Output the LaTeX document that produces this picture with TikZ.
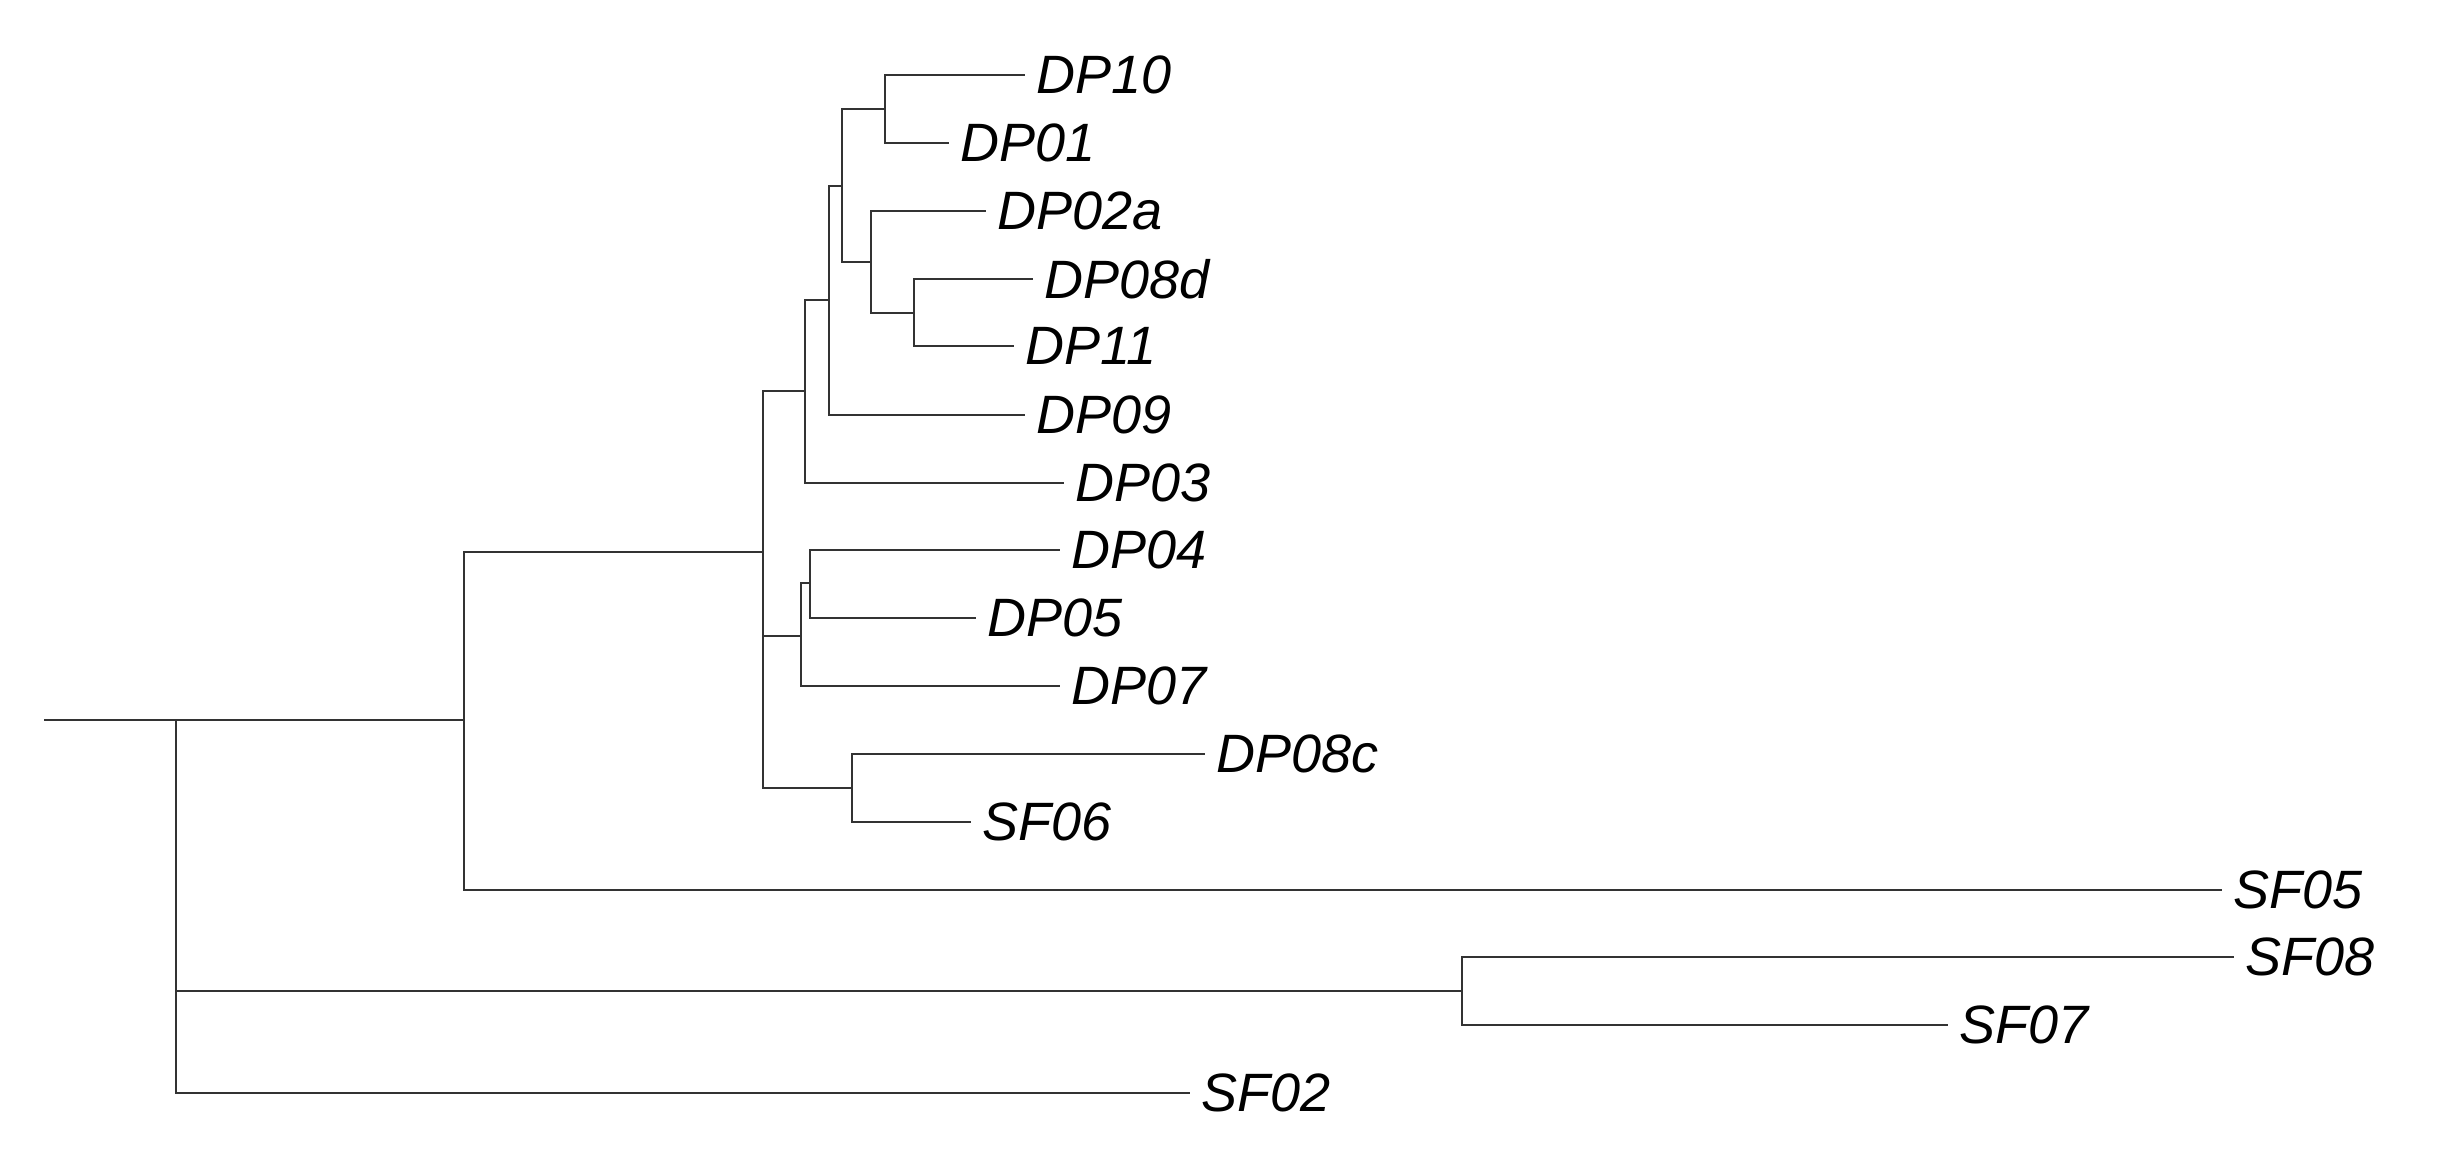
\documentclass[tikz,border=0pt]{standalone}
\usepackage{fontspec}
\setmainfont{Liberation Sans}
\begin{document}
\begin{tikzpicture}[x=1pt,y=-1pt,
  br/.style={line width=2.6pt,draw=black!80,line cap=rect},
  lab/.style={anchor=west,inner sep=0pt,font=\fontsize{54}{60}\selectfont\itshape}]
\useasboundingbox (0,0) rectangle (2453,1167);
% internal nodes
\coordinate (root) at (45,720);
\coordinate (J) at (464,720);
\coordinate (L) at (176,1041);
\coordinate (K) at (1462,991);
\coordinate (I) at (763,552);
\coordinate (F) at (805,391);
\coordinate (E) at (829,300);
\coordinate (D) at (842,186);
\coordinate (A) at (885,109);
\coordinate (C) at (871,262);
\coordinate (B) at (914,313);
\coordinate (M) at (801,636);
\coordinate (G) at (810,583);
\coordinate (H) at (852,788);
% tips
\coordinate (tDP10) at (1024,75);
\coordinate (tDP01) at (948,143);
\coordinate (tDP02a) at (985,211);
\coordinate (tDP08d) at (1032,279);
\coordinate (tDP11) at (1013,346);
\coordinate (tDP09) at (1024,415);
\coordinate (tDP03) at (1063,483);
\coordinate (tDP04) at (1059,550);
\coordinate (tDP05) at (975,618);
\coordinate (tDP07) at (1059,686);
\coordinate (tDP08c) at (1204,754);
\coordinate (tSF06) at (970,822);
\coordinate (tSF05) at (2221,890);
\coordinate (tSF08) at (2233,957);
\coordinate (tSF07) at (1947,1025);
\coordinate (tSF02) at (1189,1093);
% labels
\foreach \n in {DP10,DP01,DP02a,DP08d,DP11,DP09,DP03,DP04,DP05,DP07,DP08c,SF06,SF05,SF08,SF07,SF02}
  \node[lab] (l\n) at ([xshift=12pt]t\n) {\n};
% branches: child -| parent
\draw[br] (J) |- (root) (L) |- (root);
\draw[br] (I) -| (J) (tSF05) -| (J);
\draw[br] (K) -| (L) (tSF02) -| (L);
\draw[br] (tSF08) -| (K) (tSF07) -| (K);
\draw[br] (F) -| (I) (M) -| (I) (H) -| (I);
\draw[br] (E) -| (F) (tDP03) -| (F);
\draw[br] (D) -| (E) (tDP09) -| (E);
\draw[br] (A) -| (D) (C) -| (D);
\draw[br] (tDP10) -| (A) (tDP01) -| (A);
\draw[br] (tDP02a) -| (C) (B) -| (C);
\draw[br] (tDP08d) -| (B) (tDP11) -| (B);
\draw[br] (G) -| (M) (tDP07) -| (M);
\draw[br] (tDP04) -| (G) (tDP05) -| (G);
\draw[br] (tDP08c) -| (H) (tSF06) -| (H);
\end{tikzpicture}
\end{document}
